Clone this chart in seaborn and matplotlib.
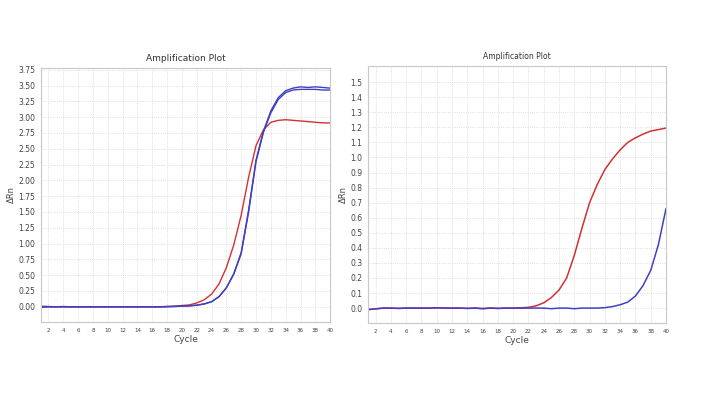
import numpy as np
import pandas as pd
import seaborn as sns
import matplotlib.pyplot as plt

cycles = list(range(1, 41))

# left plot
left_red = [0.01, 0.005, 0.0, 0.005, 0.0, 0.0, 0.0, 0.0, 0.0, 0.0,
            0.0, 0.0, 0.0, 0.0, 0.0, 0.0, 0.0, 0.005, 0.01, 0.02,
            0.03, 0.06, 0.11, 0.2, 0.36, 0.62, 0.98, 1.45, 2.05, 2.55,
            2.8, 2.92, 2.95, 2.96, 2.95, 2.94, 2.93, 2.92, 2.91, 2.91]
left_blue_a = [0.0, 0.0, 0.0, 0.0, 0.0, 0.0, 0.0, 0.0, 0.0, 0.0,
               0.0, 0.0, 0.0, 0.0, 0.0, 0.0, 0.0, 0.005, 0.005, 0.01,
               0.015, 0.025, 0.045, 0.08, 0.16, 0.3, 0.52, 0.86, 1.53, 2.32,
               2.78, 3.1, 3.31, 3.42, 3.46, 3.48, 3.47, 3.48, 3.47, 3.46]
left_blue_b = [-0.01, 0.0, 0.0, 0.0, 0.0, 0.0, 0.0, 0.0, 0.0, 0.0,
               0.0, 0.0, 0.0, 0.0, 0.0, 0.0, 0.0, 0.0, 0.005, 0.01,
               0.015, 0.025, 0.045, 0.08, 0.16, 0.3, 0.52, 0.84, 1.5, 2.3,
               2.76, 3.07, 3.28, 3.39, 3.43, 3.44, 3.44, 3.44, 3.43, 3.43]

# right plot
right_red = [-0.01, -0.005, 0.0, 0.0, -0.002, 0.0, 0.0, 0.0, 0.0, 0.002,
             0.0, 0.0, 0.0, -0.002, 0.0, -0.003, 0.0, -0.002, 0.0, 0.0,
             0.002, 0.005, 0.015, 0.035, 0.07, 0.12, 0.2, 0.35, 0.53, 0.7,
             0.82, 0.92, 0.99, 1.05, 1.1, 1.13, 1.155, 1.175, 1.185, 1.195]
right_blue = [-0.01, -0.005, 0.0, 0.0, -0.002, 0.0, 0.0, 0.0, 0.0, 0.002,
              0.0, 0.0, 0.0, -0.002, 0.0, -0.004, 0.0, -0.002, 0.0, 0.0,
              0.0, 0.0, 0.0, 0.0, -0.004, 0.0, 0.0, -0.004, 0.0, 0.0,
              0.0, 0.003, 0.01, 0.022, 0.04, 0.08, 0.15, 0.25, 0.42, 0.66]

red = '#d43030'
blue = '#4040c0'
grid_col = '#d4d4d4'
frame_col = '#c8c8c8'
text_col = '#444444'

sns.set_style('white')
plt.rcParams['font.family'] = ['DejaVu Sans']

fig = plt.figure(figsize=(7.07, 3.97), dpi=100)
ax1 = fig.add_axes([0.058, 0.189, 0.409, 0.640])
ax2 = fig.add_axes([0.5205, 0.186, 0.4215, 0.647])

for ys, c in [(left_red, red), (left_blue_a, blue), (left_blue_b, blue)]:
    sns.lineplot(x=cycles, y=ys, ax=ax1, color=c, linewidth=1.0)
for ys, c in [(right_red, red), (right_blue, blue)]:
    sns.lineplot(x=cycles, y=ys, ax=ax2, color=c, linewidth=1.1)

ax1.set_xlim(1, 40)
ax1.set_ylim(-0.24, 3.78)
ax1.set_yticks(np.arange(0, 3.76, 0.25))
ax1.set_yticklabels([f'{v:.2f}' for v in np.arange(0, 3.76, 0.25)])

ax2.set_xlim(1, 40)
ax2.set_ylim(-0.1, 1.605)
ax2.set_yticks(np.arange(0, 1.51, 0.1))
ax2.set_yticklabels([f'{v:.1f}' for v in np.arange(0, 1.51, 0.1)])

for ax, title, tfs in [(ax1, 'Amplification Plot', 6.5), (ax2, 'Amplification Plot', 5.5)]:
    ax.set_xticks(range(2, 41, 2))
    ax.tick_params(axis='x', labelsize=4, colors=text_col, length=2, width=0.5, pad=2)
    ax.tick_params(axis='y', labelsize=5.5, colors=text_col, length=2, width=0.5, pad=2)
    ax.grid(True, color=grid_col, linestyle=':', linewidth=0.6)
    for s in ax.spines.values():
        s.set_color(frame_col)
        s.set_linewidth(0.8)
    ax.set_title(title, fontsize=tfs, color='#333333', pad=5)
    ax.set_xlabel('Cycle', fontsize=6.5, color=text_col, labelpad=2)
    ax.set_ylabel('ΔRn', fontsize=6, color=text_col, labelpad=2)

fig.savefig('out.png', dpi=100, facecolor='white')
